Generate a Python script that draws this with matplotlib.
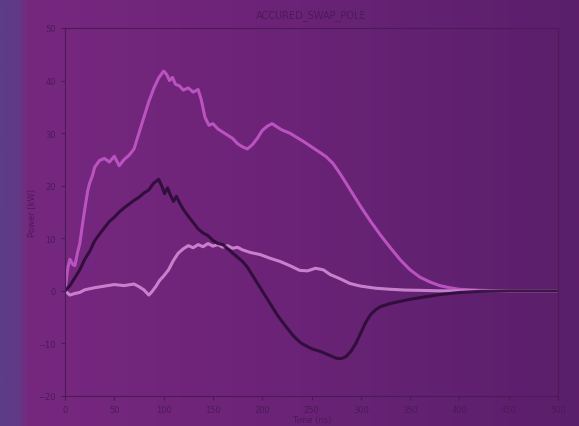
import numpy as np
import matplotlib
matplotlib.use("Agg")
import matplotlib.pyplot as plt
from matplotlib.colors import LinearSegmentedColormap

title = "ACCURED_SWAP_POLE"
x_label = "Time (ns)"
y_label = "Power [kW]"
x_ticks = [0, 50, 100, 150, 200, 250, 300, 350, 400, 450, 500]
y_ticks = [-20, -10, 0, 10, 20, 30, 40, 50]

# bright magenta series
x1 = [0, 3, 5, 8, 10, 13, 15, 18, 20, 23, 25, 28, 30, 35, 40, 45, 50, 55, 60, 65,
      70, 75, 80, 85, 90, 95, 100, 103, 106, 109, 112, 116, 120, 125, 130, 135, 138,
      142, 146, 150, 155, 160, 165, 170, 175, 180, 185, 190, 195, 200, 205, 210, 215,
      220, 228, 235, 242, 250, 258, 265, 272, 280, 290, 300, 310, 320, 330, 340, 350,
      360, 370, 380, 390, 400, 420, 450, 500]
y1 = [0, 4.5, 6.0, 5.0, 4.8, 7.5, 9.0, 13.0, 15.5, 19.0, 20.5, 22.0, 23.5, 24.8, 25.2, 24.5, 25.6,
      23.8, 25.0, 25.8, 27.0, 30.0, 33.0, 36.0, 38.5, 40.5, 41.8, 41.2, 40.0, 40.6, 39.3,
      39.0, 38.2, 38.6, 37.8, 38.3, 36.5, 33.0, 31.5, 31.8, 30.8, 30.2, 29.6, 29.0, 28.0,
      27.4, 27.0, 27.8, 29.0, 30.5, 31.3, 31.8, 31.2, 30.6, 30.0, 29.2, 28.4, 27.4, 26.4,
      25.5, 24.2, 22.0, 19.0, 16.0, 13.2, 10.6, 8.2, 5.9, 4.0, 2.6, 1.7, 1.0, 0.6, 0.3,
      0.1, 0.0, 0.0]

# dark series
x2 = [0, 5, 10, 15, 20, 25, 30, 35, 40, 45, 50, 55, 60, 65, 70, 75, 80, 85, 90, 95,
      98, 101, 104, 107, 110, 113, 116, 120, 125, 130, 135, 140, 145, 150, 155, 160,
      165, 170, 175, 180, 185, 190, 195, 200, 205, 210, 215, 220, 225, 230, 235, 240,
      245, 250, 255, 260, 265, 270, 275, 280, 285, 290, 295, 300, 305, 310, 315, 320,
      325, 330, 340, 350, 360, 370, 380, 400, 420, 450, 500]
y2 = [0, 1.0, 2.5, 4.0, 6.0, 7.5, 9.5, 10.8, 12.0, 13.2, 14.0, 15.0, 15.8, 16.5, 17.2,
      17.8, 18.6, 19.2, 20.5, 21.2, 20.0, 18.5, 19.6, 18.2, 17.0, 18.0, 16.8, 15.5, 14.2,
      13.0, 11.8, 11.0, 10.5, 9.6, 9.0, 8.8, 8.0, 7.2, 6.4, 5.6, 4.5, 3.0, 1.5, 0.0, -1.5,
      -3.0, -4.5, -5.8, -7.0, -8.2, -9.2, -10.0, -10.5, -11.0, -11.3, -11.6, -12.0, -12.4,
      -12.8, -12.9, -12.5, -11.5, -10.0, -8.0, -6.0, -4.5, -3.6, -3.0, -2.7, -2.4, -2.0,
      -1.6, -1.3, -1.0, -0.7, -0.3, -0.1, 0.0, 0.0]

# light pink series
x3 = [0, 5, 10, 15, 20, 30, 40, 50, 60, 70, 75, 80, 85, 88, 92, 96, 100, 105, 110,
      115, 120, 125, 130, 135, 140, 145, 150, 155, 160, 165, 170, 175, 180, 188, 198,
      208, 218, 228, 238, 246, 254, 262, 269, 279, 289, 300, 315, 330, 345, 360,
      380, 400, 500]
y3 = [0, -0.8, -0.5, -0.3, 0.2, 0.6, 0.9, 1.2, 1.0, 1.3, 0.8, 0.2, -0.8, -0.2, 0.8,
      2.0, 2.8, 4.0, 5.8, 7.2, 8.0, 8.6, 8.2, 8.8, 8.4, 9.0, 8.5, 8.8, 8.3, 8.6, 8.1,
      8.3, 7.8, 7.3, 6.9, 6.2, 5.6, 4.8, 3.9, 3.8, 4.3, 4.0, 3.1, 2.3, 1.4, 0.9, 0.5,
      0.3, 0.15, 0.1, 0.0, 0.0, 0.0]

W, H = 579, 427
fig = plt.figure(figsize=(W / 100, H / 100), dpi=100)

# background gradient
bg = fig.add_axes([0, 0, 1, 1], zorder=0)
bg.set_axis_off()
cmap = LinearSegmentedColormap.from_list(
    "bgpurple",
    [(0.0, "#5e3c86"), (0.03, "#613a86"), (0.045, "#76287f"),
     (0.4, "#6e2479"), (1.0, "#5a1f6b")])
grad = np.linspace(0, 1, 512).reshape(1, -1)
bg.imshow(grad, aspect="auto", cmap=cmap, extent=[0, 1, 0, 1])
bg.set_xlim(0, 1)
bg.set_ylim(0, 1)

ax = fig.add_axes([65 / W, 1 - 397 / H, (558 - 65) / W, (397 - 29) / H], zorder=1)
ax.patch.set_alpha(0)

tc = "#4c1a58"
ax.plot(x1, y1, color="#bf55c4", lw=2.2, alpha=0.95)
ax.plot(x3, y3, color="#d48ad6", lw=2.2, alpha=0.9)
ax.plot(x2, y2, color="#2c0c36", lw=2.2, alpha=0.9)

ax.set_xlim(0, 500)
ax.set_ylim(-20, 50)
ax.set_xticks(x_ticks)
ax.set_yticks(y_ticks)
ax.tick_params(colors=tc, labelsize=6, length=3, width=0.8)
for s in ax.spines.values():
    s.set_color(tc)
    s.set_linewidth(0.8)
ax.set_title(title, color=tc, fontsize=7, pad=8)
ax.set_xlabel(x_label, color=tc, fontsize=6, labelpad=1)
ax.set_ylabel(y_label, color=tc, fontsize=6, labelpad=2)

fig.savefig("out.png", dpi=100)
